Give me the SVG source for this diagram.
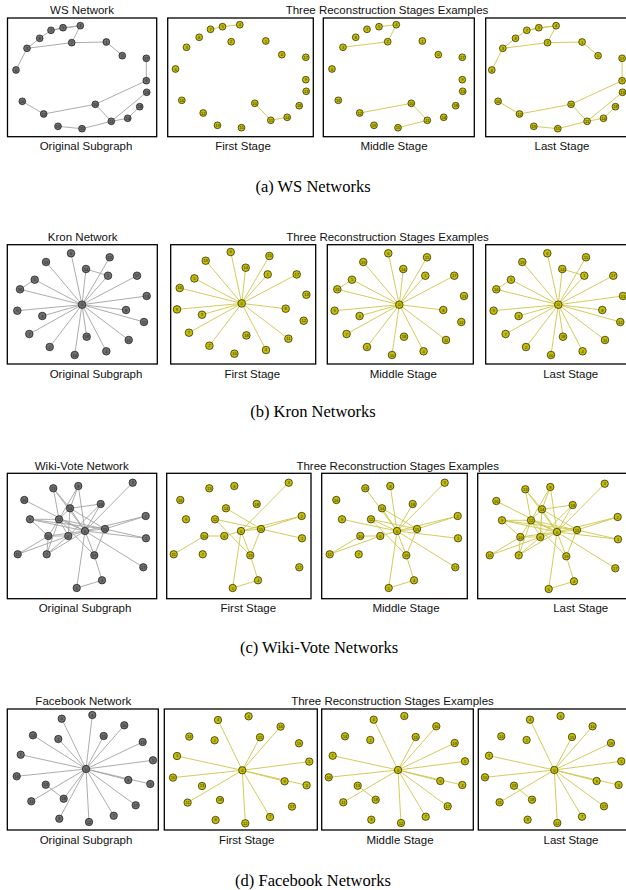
<svg xmlns="http://www.w3.org/2000/svg" xmlns:xlink="http://www.w3.org/1999/xlink" width="626" height="890" viewBox="0 0 626 890">
<style>
.box{fill:none;stroke:#000;stroke-width:1.3}
.t{font-family:"Liberation Sans",Arial,sans-serif;font-size:11.5px;text-anchor:middle;fill:#111}
.cap{font-family:"Liberation Serif","Times New Roman",serif;font-size:16.5px;text-anchor:middle;fill:#000}
.eg{stroke:#a3a3a3;stroke-width:.9;fill:none}
.ey{stroke:#cdc64a;stroke-width:.9;fill:none}
.nd circle{stroke:#000;stroke-width:.6}
.gr circle{fill:#707070}
.yl circle{fill:#c6bf00}
.nd text{font-family:"Liberation Sans",Arial,sans-serif;font-size:4px;text-anchor:middle;dominant-baseline:central;fill:#1a1a1a}
.ra circle{r:3.4px}
.rb circle{r:3.8px}
.rc circle{r:3.7px}
.rd circle{r:3.7px}
</style>
<defs>
<g id="eaAll">
<line id="ea6-3" x1="16" y1="70" x2="27" y2="48.3"/>
<line id="ea3-8" x1="27" y1="48.3" x2="39.7" y2="38.3"/>
<line id="ea8-7" x1="39.7" y1="38.3" x2="51" y2="30.3"/>
<line id="ea7-5" x1="51" y1="30.3" x2="63" y2="27.7"/>
<line id="ea5-4" x1="63" y1="27.7" x2="80.3" y2="25.7"/>
<line id="ea7-4" x1="51" y1="30.3" x2="80.3" y2="25.7"/>
<line id="ea3-2" x1="27" y1="48.3" x2="71.7" y2="42.7"/>
<line id="ea2-4" x1="71.7" y1="42.7" x2="80.3" y2="25.7"/>
<line id="ea2-1" x1="71.7" y1="42.7" x2="106.3" y2="42"/>
<line id="ea1-0" x1="106.3" y1="42" x2="122.3" y2="55.7"/>
<line id="ea17-9" x1="146.3" y1="58.3" x2="146.3" y2="80.7"/>
<line id="ea9-10" x1="146.3" y1="80.7" x2="95.3" y2="104.3"/>
<line id="ea10-12" x1="95.3" y1="104.3" x2="43.7" y2="114"/>
<line id="ea12-16" x1="43.7" y1="114" x2="22.3" y2="101.3"/>
<line id="ea10-11" x1="95.3" y1="104.3" x2="111.3" y2="121.3"/>
<line id="ea11-13" x1="111.3" y1="121.3" x2="146.7" y2="92.3"/>
<line id="ea11-14" x1="111.3" y1="121.3" x2="127.7" y2="118.3"/>
<line id="ea14-18" x1="127.7" y1="118.3" x2="139.7" y2="106.7"/>
<line id="ea11-15" x1="111.3" y1="121.3" x2="82" y2="128.7"/>
<line id="ea15-19" x1="82" y1="128.7" x2="58" y2="126.3"/>
</g>
<g id="ebAll">
<line id="eb0-1" x1="82" y1="304.7" x2="108" y2="275.7"/>
<line id="eb0-2" x1="82" y1="304.7" x2="49.7" y2="347"/>
<line id="eb0-3" x1="82" y1="304.7" x2="42.3" y2="316"/>
<line id="eb0-4" x1="82" y1="304.7" x2="106.3" y2="351.3"/>
<line id="eb0-5" x1="82" y1="304.7" x2="34.7" y2="279.7"/>
<line id="eb0-6" x1="82" y1="304.7" x2="71" y2="253.3"/>
<line id="eb0-7" x1="82" y1="304.7" x2="29.3" y2="334"/>
<line id="eb0-8" x1="82" y1="304.7" x2="126" y2="310"/>
<line id="eb0-9" x1="82" y1="304.7" x2="17.3" y2="310.7"/>
<line id="eb0-10" x1="82" y1="304.7" x2="74.7" y2="355"/>
<line id="eb0-11" x1="82" y1="304.7" x2="128.7" y2="340"/>
<line id="eb0-12" x1="82" y1="304.7" x2="144" y2="322"/>
<line id="eb0-13" x1="82" y1="304.7" x2="146.7" y2="296"/>
<line id="eb0-14" x1="82" y1="304.7" x2="86" y2="269"/>
<line id="eb0-15" x1="82" y1="304.7" x2="109.7" y2="257.3"/>
<line id="eb0-16" x1="82" y1="304.7" x2="20" y2="289.3"/>
<line id="eb0-17" x1="82" y1="304.7" x2="137" y2="275.7"/>
<line id="eb0-18" x1="82" y1="304.7" x2="86.7" y2="336.7"/>
<line id="eb0-19" x1="82" y1="304.7" x2="46" y2="262"/>
<line id="eb14-1" x1="86" y1="269" x2="108" y2="275.7"/>
<line id="eb16-5" x1="20" y1="289.3" x2="34.7" y2="279.7"/>
</g>
<g id="ecAll">
<line id="ec0-3" x1="85" y1="531" x2="132.7" y2="482.7"/>
<line id="ec0-13" x1="85" y1="531" x2="53.3" y2="488.3"/>
<line id="ec0-8" x1="85" y1="531" x2="78.3" y2="486"/>
<line id="ec0-16" x1="85" y1="531" x2="24.3" y2="500"/>
<line id="ec0-18" x1="85" y1="531" x2="100.7" y2="504"/>
<line id="ec0-14" x1="85" y1="531" x2="70" y2="508.3"/>
<line id="ec0-9" x1="85" y1="531" x2="30" y2="519.3"/>
<line id="ec0-12" x1="85" y1="531" x2="59" y2="519.3"/>
<line id="ec0-2" x1="85" y1="531" x2="145.7" y2="516"/>
<line id="ec0-1" x1="85" y1="531" x2="146" y2="538.3"/>
<line id="ec0-10" x1="85" y1="531" x2="48.3" y2="536"/>
<line id="ec0-6" x1="85" y1="531" x2="68.3" y2="536"/>
<line id="ec0-7" x1="85" y1="531" x2="46.7" y2="554.3"/>
<line id="ec0-19" x1="85" y1="531" x2="94.3" y2="555.3"/>
<line id="ec0-17" x1="85" y1="531" x2="143.3" y2="567.3"/>
<line id="ec0-5" x1="85" y1="531" x2="76.7" y2="588"/>
<line id="ec0-15" x1="85" y1="531" x2="105" y2="529"/>
<line id="ec15-2" x1="105" y1="529" x2="145.7" y2="516"/>
<line id="ec15-1" x1="105" y1="529" x2="146" y2="538.3"/>
<line id="ec15-14" x1="105" y1="529" x2="70" y2="508.3"/>
<line id="ec15-12" x1="105" y1="529" x2="59" y2="519.3"/>
<line id="ec15-9" x1="105" y1="529" x2="30" y2="519.3"/>
<line id="ec15-19" x1="105" y1="529" x2="94.3" y2="555.3"/>
<line id="ec13-14" x1="53.3" y1="488.3" x2="70" y2="508.3"/>
<line id="ec13-12" x1="53.3" y1="488.3" x2="59" y2="519.3"/>
<line id="ec8-14" x1="78.3" y1="486" x2="70" y2="508.3"/>
<line id="ec8-12" x1="78.3" y1="486" x2="59" y2="519.3"/>
<line id="ec18-14" x1="100.7" y1="504" x2="70" y2="508.3"/>
<line id="ec18-6" x1="100.7" y1="504" x2="68.3" y2="536"/>
<line id="ec14-12" x1="70" y1="508.3" x2="59" y2="519.3"/>
<line id="ec14-6" x1="70" y1="508.3" x2="68.3" y2="536"/>
<line id="ec9-12" x1="30" y1="519.3" x2="59" y2="519.3"/>
<line id="ec9-10" x1="30" y1="519.3" x2="48.3" y2="536"/>
<line id="ec12-10" x1="59" y1="519.3" x2="48.3" y2="536"/>
<line id="ec12-7" x1="59" y1="519.3" x2="46.7" y2="554.3"/>
<line id="ec12-6" x1="59" y1="519.3" x2="68.3" y2="536"/>
<line id="ec12-19" x1="59" y1="519.3" x2="94.3" y2="555.3"/>
<line id="ec10-6" x1="48.3" y1="536" x2="68.3" y2="536"/>
<line id="ec10-11" x1="48.3" y1="536" x2="17.7" y2="554.3"/>
<line id="ec10-7" x1="48.3" y1="536" x2="46.7" y2="554.3"/>
<line id="ec6-11" x1="68.3" y1="536" x2="17.7" y2="554.3"/>
<line id="ec6-7" x1="68.3" y1="536" x2="46.7" y2="554.3"/>
<line id="ec19-4" x1="94.3" y1="555.3" x2="102" y2="580.3"/>
<line id="ec4-5" x1="102" y1="580.3" x2="76.7" y2="588"/>
</g>
<g id="edAll">
<line id="ed0-1" x1="86" y1="769" x2="20.7" y2="754.7"/>
<line id="ed0-2" x1="86" y1="769" x2="58.3" y2="739"/>
<line id="ed0-3" x1="86" y1="769" x2="150.3" y2="784"/>
<line id="ed0-4" x1="86" y1="769" x2="61.7" y2="718.7"/>
<line id="ed0-5" x1="86" y1="769" x2="153" y2="760.3"/>
<line id="ed0-6" x1="86" y1="769" x2="92.3" y2="715"/>
<line id="ed0-7" x1="86" y1="769" x2="113.7" y2="815.7"/>
<line id="ed0-8" x1="86" y1="769" x2="59.3" y2="818.7"/>
<line id="ed0-9" x1="86" y1="769" x2="128.3" y2="780"/>
<line id="ed0-10" x1="86" y1="769" x2="16.7" y2="776.3"/>
<line id="ed0-11" x1="86" y1="769" x2="31.3" y2="801.3"/>
<line id="ed0-12" x1="86" y1="769" x2="89" y2="822"/>
<line id="ed0-14" x1="86" y1="769" x2="33" y2="735.3"/>
<line id="ed0-15" x1="86" y1="769" x2="103.7" y2="736"/>
<line id="ed0-16" x1="86" y1="769" x2="124.3" y2="725.3"/>
<line id="ed0-17" x1="86" y1="769" x2="135.7" y2="805.3"/>
<line id="ed0-18" x1="86" y1="769" x2="63.7" y2="798.7"/>
<line id="ed0-19" x1="86" y1="769" x2="142.7" y2="742"/>
<line id="ed13-18" x1="45.7" y1="784.7" x2="63.7" y2="798.7"/>
</g>
</defs>
<rect width="626" height="890" fill="#fff"/>

<!-- ===== Row (a) WS ===== -->
<g id="rowA">
<text class="t" x="82" y="14">WS Network</text>
<text class="t" x="387" y="14">Three Reconstruction Stages Examples</text>
<rect class="box" x="7.5" y="18" width="149.2" height="118.7"/>
<rect class="box" x="167.7" y="18" width="145.6" height="118.7"/>
<rect class="box" x="323.3" y="18" width="151" height="118.7"/>
<rect class="box" x="485.7" y="18" width="150" height="118.7"/>
<text class="t" x="86" y="150">Original Subgraph</text>
<text class="t" x="243" y="150">First Stage</text>
<text class="t" x="394" y="150">Middle Stage</text>
<text class="t" x="562" y="150">Last Stage</text>
<text class="cap" x="313" y="191.5">(a) WS Networks</text>
<g id="a1-edges" class="eg"><use href="#eaAll"/></g>
<g id="a2-edges" class="ey" transform="translate(159.5,-1)"><use href="#ea7-5"/><use href="#ea5-4"/><use href="#ea10-11"/><use href="#ea11-14"/></g>
<g id="a3-edges" class="ey" transform="translate(316,-1)"><use href="#ea5-4"/><use href="#ea2-4"/><use href="#ea3-2"/><use href="#ea10-12"/><use href="#ea10-11"/><use href="#ea11-15"/></g>
<g id="a4-edges" class="ey" transform="translate(475.8,0)"><use href="#eaAll"/></g>
<g id="a1" class="nd gr ra">
<g id="a1-0"><circle cx="122.3" cy="55.7"/><text x="122.3" y="55.7">0</text></g>
<g id="a1-1"><circle cx="106.3" cy="42"/><text x="106.3" y="42">1</text></g>
<g id="a1-2"><circle cx="71.7" cy="42.7"/><text x="71.7" y="42.7">2</text></g>
<g id="a1-3"><circle cx="27" cy="48.3"/><text x="27" y="48.3">3</text></g>
<g id="a1-4"><circle cx="80.3" cy="25.7"/><text x="80.3" y="25.7">4</text></g>
<g id="a1-5"><circle cx="63" cy="27.7"/><text x="63" y="27.7">5</text></g>
<g id="a1-6"><circle cx="16" cy="70"/><text x="16" y="70">6</text></g>
<g id="a1-7"><circle cx="51" cy="30.3"/><text x="51" y="30.3">7</text></g>
<g id="a1-8"><circle cx="39.7" cy="38.3"/><text x="39.7" y="38.3">8</text></g>
<g id="a1-9"><circle cx="146.3" cy="80.7"/><text x="146.3" y="80.7">9</text></g>
<g id="a1-10"><circle cx="95.3" cy="104.3"/><text x="95.3" y="104.3">10</text></g>
<g id="a1-11"><circle cx="111.3" cy="121.3"/><text x="111.3" y="121.3">11</text></g>
<g id="a1-12"><circle cx="43.7" cy="114"/><text x="43.7" y="114">12</text></g>
<g id="a1-13"><circle cx="146.7" cy="92.3"/><text x="146.7" y="92.3">13</text></g>
<g id="a1-14"><circle cx="127.7" cy="118.3"/><text x="127.7" y="118.3">14</text></g>
<g id="a1-15"><circle cx="82" cy="128.7"/><text x="82" y="128.7">15</text></g>
<g id="a1-16"><circle cx="22.3" cy="101.3"/><text x="22.3" y="101.3">16</text></g>
<g id="a1-17"><circle cx="146.3" cy="58.3"/><text x="146.3" y="58.3">17</text></g>
<g id="a1-18"><circle cx="139.7" cy="106.7"/><text x="139.7" y="106.7">18</text></g>
<g id="a1-19"><circle cx="58" cy="126.3"/><text x="58" y="126.3">19</text></g>
</g>
<g id="a2" class="nd yl ra" transform="translate(159.5,-1)">
<g id="a2-0"><circle cx="122.3" cy="55.7"/><text x="122.3" y="55.7">0</text></g>
<g id="a2-1"><circle cx="106.3" cy="42"/><text x="106.3" y="42">1</text></g>
<g id="a2-2"><circle cx="71.7" cy="42.7"/><text x="71.7" y="42.7">2</text></g>
<g id="a2-3"><circle cx="27" cy="48.3"/><text x="27" y="48.3">3</text></g>
<g id="a2-4"><circle cx="80.3" cy="25.7"/><text x="80.3" y="25.7">4</text></g>
<g id="a2-5"><circle cx="63" cy="27.7"/><text x="63" y="27.7">5</text></g>
<g id="a2-6"><circle cx="16" cy="70"/><text x="16" y="70">6</text></g>
<g id="a2-7"><circle cx="51" cy="30.3"/><text x="51" y="30.3">7</text></g>
<g id="a2-8"><circle cx="39.7" cy="38.3"/><text x="39.7" y="38.3">8</text></g>
<g id="a2-9"><circle cx="146.3" cy="80.7"/><text x="146.3" y="80.7">9</text></g>
<g id="a2-10"><circle cx="95.3" cy="104.3"/><text x="95.3" y="104.3">10</text></g>
<g id="a2-11"><circle cx="111.3" cy="121.3"/><text x="111.3" y="121.3">11</text></g>
<g id="a2-12"><circle cx="43.7" cy="114"/><text x="43.7" y="114">12</text></g>
<g id="a2-13"><circle cx="146.7" cy="92.3"/><text x="146.7" y="92.3">13</text></g>
<g id="a2-14"><circle cx="127.7" cy="118.3"/><text x="127.7" y="118.3">14</text></g>
<g id="a2-15"><circle cx="82" cy="128.7"/><text x="82" y="128.7">15</text></g>
<g id="a2-16"><circle cx="22.3" cy="101.3"/><text x="22.3" y="101.3">16</text></g>
<g id="a2-17"><circle cx="146.3" cy="58.3"/><text x="146.3" y="58.3">17</text></g>
<g id="a2-18"><circle cx="139.7" cy="106.7"/><text x="139.7" y="106.7">18</text></g>
<g id="a2-19"><circle cx="58" cy="126.3"/><text x="58" y="126.3">19</text></g>
</g>
<g id="a3" class="nd yl ra" transform="translate(316,-1)">
<g id="a3-0"><circle cx="122.3" cy="55.7"/><text x="122.3" y="55.7">0</text></g>
<g id="a3-1"><circle cx="106.3" cy="42"/><text x="106.3" y="42">1</text></g>
<g id="a3-2"><circle cx="71.7" cy="42.7"/><text x="71.7" y="42.7">2</text></g>
<g id="a3-3"><circle cx="27" cy="48.3"/><text x="27" y="48.3">3</text></g>
<g id="a3-4"><circle cx="80.3" cy="25.7"/><text x="80.3" y="25.7">4</text></g>
<g id="a3-5"><circle cx="63" cy="27.7"/><text x="63" y="27.7">5</text></g>
<g id="a3-6"><circle cx="16" cy="70"/><text x="16" y="70">6</text></g>
<g id="a3-7"><circle cx="51" cy="30.3"/><text x="51" y="30.3">7</text></g>
<g id="a3-8"><circle cx="39.7" cy="38.3"/><text x="39.7" y="38.3">8</text></g>
<g id="a3-9"><circle cx="146.3" cy="80.7"/><text x="146.3" y="80.7">9</text></g>
<g id="a3-10"><circle cx="95.3" cy="104.3"/><text x="95.3" y="104.3">10</text></g>
<g id="a3-11"><circle cx="111.3" cy="121.3"/><text x="111.3" y="121.3">11</text></g>
<g id="a3-12"><circle cx="43.7" cy="114"/><text x="43.7" y="114">12</text></g>
<g id="a3-13"><circle cx="146.7" cy="92.3"/><text x="146.7" y="92.3">13</text></g>
<g id="a3-14"><circle cx="127.7" cy="118.3"/><text x="127.7" y="118.3">14</text></g>
<g id="a3-15"><circle cx="82" cy="128.7"/><text x="82" y="128.7">15</text></g>
<g id="a3-16"><circle cx="22.3" cy="101.3"/><text x="22.3" y="101.3">16</text></g>
<g id="a3-17"><circle cx="146.3" cy="58.3"/><text x="146.3" y="58.3">17</text></g>
<g id="a3-18"><circle cx="139.7" cy="106.7"/><text x="139.7" y="106.7">18</text></g>
<g id="a3-19"><circle cx="58" cy="126.3"/><text x="58" y="126.3">19</text></g>
</g>
<g id="a4" class="nd yl ra" transform="translate(475.8,0)">
<g id="a4-0"><circle cx="122.3" cy="55.7"/><text x="122.3" y="55.7">0</text></g>
<g id="a4-1"><circle cx="106.3" cy="42"/><text x="106.3" y="42">1</text></g>
<g id="a4-2"><circle cx="71.7" cy="42.7"/><text x="71.7" y="42.7">2</text></g>
<g id="a4-3"><circle cx="27" cy="48.3"/><text x="27" y="48.3">3</text></g>
<g id="a4-4"><circle cx="80.3" cy="25.7"/><text x="80.3" y="25.7">4</text></g>
<g id="a4-5"><circle cx="63" cy="27.7"/><text x="63" y="27.7">5</text></g>
<g id="a4-6"><circle cx="16" cy="70"/><text x="16" y="70">6</text></g>
<g id="a4-7"><circle cx="51" cy="30.3"/><text x="51" y="30.3">7</text></g>
<g id="a4-8"><circle cx="39.7" cy="38.3"/><text x="39.7" y="38.3">8</text></g>
<g id="a4-9"><circle cx="146.3" cy="80.7"/><text x="146.3" y="80.7">9</text></g>
<g id="a4-10"><circle cx="95.3" cy="104.3"/><text x="95.3" y="104.3">10</text></g>
<g id="a4-11"><circle cx="111.3" cy="121.3"/><text x="111.3" y="121.3">11</text></g>
<g id="a4-12"><circle cx="43.7" cy="114"/><text x="43.7" y="114">12</text></g>
<g id="a4-13"><circle cx="146.7" cy="92.3"/><text x="146.7" y="92.3">13</text></g>
<g id="a4-14"><circle cx="127.7" cy="118.3"/><text x="127.7" y="118.3">14</text></g>
<g id="a4-15"><circle cx="82" cy="128.7"/><text x="82" y="128.7">15</text></g>
<g id="a4-16"><circle cx="22.3" cy="101.3"/><text x="22.3" y="101.3">16</text></g>
<g id="a4-17"><circle cx="146.3" cy="58.3"/><text x="146.3" y="58.3">17</text></g>
<g id="a4-18"><circle cx="139.7" cy="106.7"/><text x="139.7" y="106.7">18</text></g>
<g id="a4-19"><circle cx="58" cy="126.3"/><text x="58" y="126.3">19</text></g>
</g>
</g>

<!-- ===== Row (b) Kron ===== -->
<g id="rowB">
<text class="t" x="82.7" y="241">Kron Network</text>
<text class="t" x="387.5" y="241">Three Reconstruction Stages Examples</text>
<rect class="box" x="7.3" y="244.7" width="150" height="119.3"/>
<rect class="box" x="170.7" y="244.7" width="145" height="119.3"/>
<rect class="box" x="327.3" y="244.7" width="146" height="119.3"/>
<rect class="box" x="485.7" y="244.7" width="150" height="119.3"/>
<text class="t" x="96" y="378">Original Subgraph</text>
<text class="t" x="252.3" y="378">First Stage</text>
<text class="t" x="403.3" y="378">Middle Stage</text>
<text class="t" x="570.7" y="378">Last Stage</text>
<text class="cap" x="313" y="416.5">(b) Kron Networks</text>
<g id="b1-edges" class="eg"><use href="#ebAll"/></g>
<g id="b2-edges" class="ey" transform="translate(159.7,-1.3)"><use href="#eb0-6"/><use href="#eb0-19"/><use href="#eb0-14"/><use href="#eb0-15"/><use href="#eb0-1"/><use href="#eb0-17"/><use href="#eb0-5"/><use href="#eb0-16"/><use href="#eb0-9"/><use href="#eb0-3"/><use href="#eb0-8"/><use href="#eb0-7"/><use href="#eb0-2"/><use href="#eb0-11"/><use href="#eb0-4"/></g>
<g id="b3-edges" class="ey" transform="translate(317.3,0)"><use href="#eb0-6"/><use href="#eb0-19"/><use href="#eb0-14"/><use href="#eb0-15"/><use href="#eb0-1"/><use href="#eb0-17"/><use href="#eb0-5"/><use href="#eb0-16"/><use href="#eb0-9"/><use href="#eb0-3"/><use href="#eb0-8"/><use href="#eb0-7"/><use href="#eb0-2"/><use href="#eb0-10"/><use href="#eb0-4"/><use href="#eb0-11"/><use href="#eb16-5"/></g>
<g id="b4-edges" class="ey" transform="translate(476.3,0)"><use href="#ebAll"/></g>
<g id="b1" class="nd gr rb">
<g id="b1-0"><circle cx="82" cy="304.7"/><text x="82" y="304.7">0</text></g>
<g id="b1-1"><circle cx="108" cy="275.7"/><text x="108" y="275.7">1</text></g>
<g id="b1-2"><circle cx="49.7" cy="347"/><text x="49.7" y="347">2</text></g>
<g id="b1-3"><circle cx="42.3" cy="316"/><text x="42.3" y="316">3</text></g>
<g id="b1-4"><circle cx="106.3" cy="351.3"/><text x="106.3" y="351.3">4</text></g>
<g id="b1-5"><circle cx="34.7" cy="279.7"/><text x="34.7" y="279.7">5</text></g>
<g id="b1-6"><circle cx="71" cy="253.3"/><text x="71" y="253.3">6</text></g>
<g id="b1-7"><circle cx="29.3" cy="334"/><text x="29.3" y="334">7</text></g>
<g id="b1-8"><circle cx="126" cy="310"/><text x="126" y="310">8</text></g>
<g id="b1-9"><circle cx="17.3" cy="310.7"/><text x="17.3" y="310.7">9</text></g>
<g id="b1-10"><circle cx="74.7" cy="355"/><text x="74.7" y="355">10</text></g>
<g id="b1-11"><circle cx="128.7" cy="340"/><text x="128.7" y="340">11</text></g>
<g id="b1-12"><circle cx="144" cy="322"/><text x="144" y="322">12</text></g>
<g id="b1-13"><circle cx="146.7" cy="296"/><text x="146.7" y="296">13</text></g>
<g id="b1-14"><circle cx="86" cy="269"/><text x="86" y="269">14</text></g>
<g id="b1-15"><circle cx="109.7" cy="257.3"/><text x="109.7" y="257.3">15</text></g>
<g id="b1-16"><circle cx="20" cy="289.3"/><text x="20" y="289.3">16</text></g>
<g id="b1-17"><circle cx="137" cy="275.7"/><text x="137" y="275.7">17</text></g>
<g id="b1-18"><circle cx="86.7" cy="336.7"/><text x="86.7" y="336.7">18</text></g>
<g id="b1-19"><circle cx="46" cy="262"/><text x="46" y="262">19</text></g>
</g>
<g id="b2" class="nd yl rb" transform="translate(159.7,-1.3)">
<g id="b2-0"><circle cx="82" cy="304.7"/><text x="82" y="304.7">0</text></g>
<g id="b2-1"><circle cx="108" cy="275.7"/><text x="108" y="275.7">1</text></g>
<g id="b2-2"><circle cx="49.7" cy="347"/><text x="49.7" y="347">2</text></g>
<g id="b2-3"><circle cx="42.3" cy="316"/><text x="42.3" y="316">3</text></g>
<g id="b2-4"><circle cx="106.3" cy="351.3"/><text x="106.3" y="351.3">4</text></g>
<g id="b2-5"><circle cx="34.7" cy="279.7"/><text x="34.7" y="279.7">5</text></g>
<g id="b2-6"><circle cx="71" cy="253.3"/><text x="71" y="253.3">6</text></g>
<g id="b2-7"><circle cx="29.3" cy="334"/><text x="29.3" y="334">7</text></g>
<g id="b2-8"><circle cx="126" cy="310"/><text x="126" y="310">8</text></g>
<g id="b2-9"><circle cx="17.3" cy="310.7"/><text x="17.3" y="310.7">9</text></g>
<g id="b2-10"><circle cx="74.7" cy="355"/><text x="74.7" y="355">10</text></g>
<g id="b2-11"><circle cx="128.7" cy="340"/><text x="128.7" y="340">11</text></g>
<g id="b2-12"><circle cx="144" cy="322"/><text x="144" y="322">12</text></g>
<g id="b2-13"><circle cx="146.7" cy="296"/><text x="146.7" y="296">13</text></g>
<g id="b2-14"><circle cx="86" cy="269"/><text x="86" y="269">14</text></g>
<g id="b2-15"><circle cx="109.7" cy="257.3"/><text x="109.7" y="257.3">15</text></g>
<g id="b2-16"><circle cx="20" cy="289.3"/><text x="20" y="289.3">16</text></g>
<g id="b2-17"><circle cx="137" cy="275.7"/><text x="137" y="275.7">17</text></g>
<g id="b2-18"><circle cx="86.7" cy="336.7"/><text x="86.7" y="336.7">18</text></g>
<g id="b2-19"><circle cx="46" cy="262"/><text x="46" y="262">19</text></g>
</g>
<g id="b3" class="nd yl rb" transform="translate(317.3,0)">
<g id="b3-0"><circle cx="82" cy="304.7"/><text x="82" y="304.7">0</text></g>
<g id="b3-1"><circle cx="108" cy="275.7"/><text x="108" y="275.7">1</text></g>
<g id="b3-2"><circle cx="49.7" cy="347"/><text x="49.7" y="347">2</text></g>
<g id="b3-3"><circle cx="42.3" cy="316"/><text x="42.3" y="316">3</text></g>
<g id="b3-4"><circle cx="106.3" cy="351.3"/><text x="106.3" y="351.3">4</text></g>
<g id="b3-5"><circle cx="34.7" cy="279.7"/><text x="34.7" y="279.7">5</text></g>
<g id="b3-6"><circle cx="71" cy="253.3"/><text x="71" y="253.3">6</text></g>
<g id="b3-7"><circle cx="29.3" cy="334"/><text x="29.3" y="334">7</text></g>
<g id="b3-8"><circle cx="126" cy="310"/><text x="126" y="310">8</text></g>
<g id="b3-9"><circle cx="17.3" cy="310.7"/><text x="17.3" y="310.7">9</text></g>
<g id="b3-10"><circle cx="74.7" cy="355"/><text x="74.7" y="355">10</text></g>
<g id="b3-11"><circle cx="128.7" cy="340"/><text x="128.7" y="340">11</text></g>
<g id="b3-12"><circle cx="144" cy="322"/><text x="144" y="322">12</text></g>
<g id="b3-13"><circle cx="146.7" cy="296"/><text x="146.7" y="296">13</text></g>
<g id="b3-14"><circle cx="86" cy="269"/><text x="86" y="269">14</text></g>
<g id="b3-15"><circle cx="109.7" cy="257.3"/><text x="109.7" y="257.3">15</text></g>
<g id="b3-16"><circle cx="20" cy="289.3"/><text x="20" y="289.3">16</text></g>
<g id="b3-17"><circle cx="137" cy="275.7"/><text x="137" y="275.7">17</text></g>
<g id="b3-18"><circle cx="86.7" cy="336.7"/><text x="86.7" y="336.7">18</text></g>
<g id="b3-19"><circle cx="46" cy="262"/><text x="46" y="262">19</text></g>
</g>
<g id="b4" class="nd yl rb" transform="translate(476.3,0)">
<g id="b4-0"><circle cx="82" cy="304.7"/><text x="82" y="304.7">0</text></g>
<g id="b4-1"><circle cx="108" cy="275.7"/><text x="108" y="275.7">1</text></g>
<g id="b4-2"><circle cx="49.7" cy="347"/><text x="49.7" y="347">2</text></g>
<g id="b4-3"><circle cx="42.3" cy="316"/><text x="42.3" y="316">3</text></g>
<g id="b4-4"><circle cx="106.3" cy="351.3"/><text x="106.3" y="351.3">4</text></g>
<g id="b4-5"><circle cx="34.7" cy="279.7"/><text x="34.7" y="279.7">5</text></g>
<g id="b4-6"><circle cx="71" cy="253.3"/><text x="71" y="253.3">6</text></g>
<g id="b4-7"><circle cx="29.3" cy="334"/><text x="29.3" y="334">7</text></g>
<g id="b4-8"><circle cx="126" cy="310"/><text x="126" y="310">8</text></g>
<g id="b4-9"><circle cx="17.3" cy="310.7"/><text x="17.3" y="310.7">9</text></g>
<g id="b4-10"><circle cx="74.7" cy="355"/><text x="74.7" y="355">10</text></g>
<g id="b4-11"><circle cx="128.7" cy="340"/><text x="128.7" y="340">11</text></g>
<g id="b4-12"><circle cx="144" cy="322"/><text x="144" y="322">12</text></g>
<g id="b4-13"><circle cx="146.7" cy="296"/><text x="146.7" y="296">13</text></g>
<g id="b4-14"><circle cx="86" cy="269"/><text x="86" y="269">14</text></g>
<g id="b4-15"><circle cx="109.7" cy="257.3"/><text x="109.7" y="257.3">15</text></g>
<g id="b4-16"><circle cx="20" cy="289.3"/><text x="20" y="289.3">16</text></g>
<g id="b4-17"><circle cx="137" cy="275.7"/><text x="137" y="275.7">17</text></g>
<g id="b4-18"><circle cx="86.7" cy="336.7"/><text x="86.7" y="336.7">18</text></g>
<g id="b4-19"><circle cx="46" cy="262"/><text x="46" y="262">19</text></g>
</g>
</g>

<!-- ===== Row (c) Wiki-Vote ===== -->
<g id="rowC">
<text class="t" x="81.7" y="469.5">Wiki-Vote Network</text>
<text class="t" x="397.7" y="469.5">Three Reconstruction Stages Examples</text>
<rect class="box" x="7.3" y="473.3" width="149.4" height="125.4"/>
<rect class="box" x="166.7" y="473.3" width="144.3" height="125.4"/>
<rect class="box" x="321.7" y="473.3" width="145.6" height="125.4"/>
<rect class="box" x="477.7" y="473.3" width="155" height="125.4"/>
<text class="t" x="85" y="612">Original Subgraph</text>
<text class="t" x="248.3" y="612">First Stage</text>
<text class="t" x="406" y="612">Middle Stage</text>
<text class="t" x="580.7" y="612">Last Stage</text>
<text class="cap" x="319" y="652.5">(c) Wiki-Vote Networks</text>
<g id="c1-edges" class="eg"><use href="#ecAll"/></g>
<g id="c2-edges" class="ey" transform="translate(156,0)"><use href="#ec0-3"/><use href="#ec15-14"/><use href="#ec15-12"/><use href="#ec12-19"/><use href="#ec15-2"/><use href="#ec0-2"/><use href="#ec15-1"/><use href="#ec0-6"/><use href="#ec10-6"/><use href="#ec10-11"/><use href="#ec0-19"/><use href="#ec19-4"/><use href="#ec0-5"/><use href="#ec4-5"/><use href="#ec15-19"/><use href="#ec0-15"/></g>
<g id="c3-edges" class="ey" transform="translate(312,0)"><use href="#ec0-3"/><use href="#ec0-13"/><use href="#ec0-8"/><use href="#ec0-18"/><use href="#ec0-14"/><use href="#ec15-14"/><use href="#ec0-9"/><use href="#ec0-12"/><use href="#ec12-19"/><use href="#ec15-12"/><use href="#ec15-2"/><use href="#ec0-2"/><use href="#ec0-1"/><use href="#ec10-6"/><use href="#ec0-6"/><use href="#ec10-11"/><use href="#ec6-11"/><use href="#ec0-19"/><use href="#ec19-4"/><use href="#ec4-5"/><use href="#ec0-5"/><use href="#ec0-17"/><use href="#ec15-19"/><use href="#ec0-15"/></g>
<g id="c4-edges" class="ey" transform="translate(472,1)"><use href="#ecAll"/></g>
<g id="c1" class="nd gr rc">
<g id="c1-0"><circle cx="85" cy="531"/><text x="85" y="531">0</text></g>
<g id="c1-1"><circle cx="146" cy="538.3"/><text x="146" y="538.3">1</text></g>
<g id="c1-2"><circle cx="145.7" cy="516"/><text x="145.7" y="516">2</text></g>
<g id="c1-3"><circle cx="132.7" cy="482.7"/><text x="132.7" y="482.7">3</text></g>
<g id="c1-4"><circle cx="102" cy="580.3"/><text x="102" y="580.3">4</text></g>
<g id="c1-5"><circle cx="76.7" cy="588"/><text x="76.7" y="588">5</text></g>
<g id="c1-6"><circle cx="68.3" cy="536"/><text x="68.3" y="536">6</text></g>
<g id="c1-7"><circle cx="46.7" cy="554.3"/><text x="46.7" y="554.3">7</text></g>
<g id="c1-8"><circle cx="78.3" cy="486"/><text x="78.3" y="486">8</text></g>
<g id="c1-9"><circle cx="30" cy="519.3"/><text x="30" y="519.3">9</text></g>
<g id="c1-10"><circle cx="48.3" cy="536"/><text x="48.3" y="536">10</text></g>
<g id="c1-11"><circle cx="17.7" cy="554.3"/><text x="17.7" y="554.3">11</text></g>
<g id="c1-12"><circle cx="59" cy="519.3"/><text x="59" y="519.3">12</text></g>
<g id="c1-13"><circle cx="53.3" cy="488.3"/><text x="53.3" y="488.3">13</text></g>
<g id="c1-14"><circle cx="70" cy="508.3"/><text x="70" y="508.3">14</text></g>
<g id="c1-15"><circle cx="105" cy="529"/><text x="105" y="529">15</text></g>
<g id="c1-16"><circle cx="24.3" cy="500"/><text x="24.3" y="500">16</text></g>
<g id="c1-17"><circle cx="143.3" cy="567.3"/><text x="143.3" y="567.3">17</text></g>
<g id="c1-18"><circle cx="100.7" cy="504"/><text x="100.7" y="504">18</text></g>
<g id="c1-19"><circle cx="94.3" cy="555.3"/><text x="94.3" y="555.3">19</text></g>
</g>
<g id="c2" class="nd yl rc" transform="translate(156,0)">
<g id="c2-0"><circle cx="85" cy="531"/><text x="85" y="531">0</text></g>
<g id="c2-1"><circle cx="146" cy="538.3"/><text x="146" y="538.3">1</text></g>
<g id="c2-2"><circle cx="145.7" cy="516"/><text x="145.7" y="516">2</text></g>
<g id="c2-3"><circle cx="132.7" cy="482.7"/><text x="132.7" y="482.7">3</text></g>
<g id="c2-4"><circle cx="102" cy="580.3"/><text x="102" y="580.3">4</text></g>
<g id="c2-5"><circle cx="76.7" cy="588"/><text x="76.7" y="588">5</text></g>
<g id="c2-6"><circle cx="68.3" cy="536"/><text x="68.3" y="536">6</text></g>
<g id="c2-7"><circle cx="46.7" cy="554.3"/><text x="46.7" y="554.3">7</text></g>
<g id="c2-8"><circle cx="78.3" cy="486"/><text x="78.3" y="486">8</text></g>
<g id="c2-9"><circle cx="30" cy="519.3"/><text x="30" y="519.3">9</text></g>
<g id="c2-10"><circle cx="48.3" cy="536"/><text x="48.3" y="536">10</text></g>
<g id="c2-11"><circle cx="17.7" cy="554.3"/><text x="17.7" y="554.3">11</text></g>
<g id="c2-12"><circle cx="59" cy="519.3"/><text x="59" y="519.3">12</text></g>
<g id="c2-13"><circle cx="53.3" cy="488.3"/><text x="53.3" y="488.3">13</text></g>
<g id="c2-14"><circle cx="70" cy="508.3"/><text x="70" y="508.3">14</text></g>
<g id="c2-15"><circle cx="105" cy="529"/><text x="105" y="529">15</text></g>
<g id="c2-16"><circle cx="24.3" cy="500"/><text x="24.3" y="500">16</text></g>
<g id="c2-17"><circle cx="143.3" cy="567.3"/><text x="143.3" y="567.3">17</text></g>
<g id="c2-18"><circle cx="100.7" cy="504"/><text x="100.7" y="504">18</text></g>
<g id="c2-19"><circle cx="94.3" cy="555.3"/><text x="94.3" y="555.3">19</text></g>
</g>
<g id="c3" class="nd yl rc" transform="translate(312,0)">
<g id="c3-0"><circle cx="85" cy="531"/><text x="85" y="531">0</text></g>
<g id="c3-1"><circle cx="146" cy="538.3"/><text x="146" y="538.3">1</text></g>
<g id="c3-2"><circle cx="145.7" cy="516"/><text x="145.7" y="516">2</text></g>
<g id="c3-3"><circle cx="132.7" cy="482.7"/><text x="132.7" y="482.7">3</text></g>
<g id="c3-4"><circle cx="102" cy="580.3"/><text x="102" y="580.3">4</text></g>
<g id="c3-5"><circle cx="76.7" cy="588"/><text x="76.7" y="588">5</text></g>
<g id="c3-6"><circle cx="68.3" cy="536"/><text x="68.3" y="536">6</text></g>
<g id="c3-7"><circle cx="46.7" cy="554.3"/><text x="46.7" y="554.3">7</text></g>
<g id="c3-8"><circle cx="78.3" cy="486"/><text x="78.3" y="486">8</text></g>
<g id="c3-9"><circle cx="30" cy="519.3"/><text x="30" y="519.3">9</text></g>
<g id="c3-10"><circle cx="48.3" cy="536"/><text x="48.3" y="536">10</text></g>
<g id="c3-11"><circle cx="17.7" cy="554.3"/><text x="17.7" y="554.3">11</text></g>
<g id="c3-12"><circle cx="59" cy="519.3"/><text x="59" y="519.3">12</text></g>
<g id="c3-13"><circle cx="53.3" cy="488.3"/><text x="53.3" y="488.3">13</text></g>
<g id="c3-14"><circle cx="70" cy="508.3"/><text x="70" y="508.3">14</text></g>
<g id="c3-15"><circle cx="105" cy="529"/><text x="105" y="529">15</text></g>
<g id="c3-16"><circle cx="24.3" cy="500"/><text x="24.3" y="500">16</text></g>
<g id="c3-17"><circle cx="143.3" cy="567.3"/><text x="143.3" y="567.3">17</text></g>
<g id="c3-18"><circle cx="100.7" cy="504"/><text x="100.7" y="504">18</text></g>
<g id="c3-19"><circle cx="94.3" cy="555.3"/><text x="94.3" y="555.3">19</text></g>
</g>
<g id="c4" class="nd yl rc" transform="translate(472,1)">
<g id="c4-0"><circle cx="85" cy="531"/><text x="85" y="531">0</text></g>
<g id="c4-1"><circle cx="146" cy="538.3"/><text x="146" y="538.3">1</text></g>
<g id="c4-2"><circle cx="145.7" cy="516"/><text x="145.7" y="516">2</text></g>
<g id="c4-3"><circle cx="132.7" cy="482.7"/><text x="132.7" y="482.7">3</text></g>
<g id="c4-4"><circle cx="102" cy="580.3"/><text x="102" y="580.3">4</text></g>
<g id="c4-5"><circle cx="76.7" cy="588"/><text x="76.7" y="588">5</text></g>
<g id="c4-6"><circle cx="68.3" cy="536"/><text x="68.3" y="536">6</text></g>
<g id="c4-7"><circle cx="46.7" cy="554.3"/><text x="46.7" y="554.3">7</text></g>
<g id="c4-8"><circle cx="78.3" cy="486"/><text x="78.3" y="486">8</text></g>
<g id="c4-9"><circle cx="30" cy="519.3"/><text x="30" y="519.3">9</text></g>
<g id="c4-10"><circle cx="48.3" cy="536"/><text x="48.3" y="536">10</text></g>
<g id="c4-11"><circle cx="17.7" cy="554.3"/><text x="17.7" y="554.3">11</text></g>
<g id="c4-12"><circle cx="59" cy="519.3"/><text x="59" y="519.3">12</text></g>
<g id="c4-13"><circle cx="53.3" cy="488.3"/><text x="53.3" y="488.3">13</text></g>
<g id="c4-14"><circle cx="70" cy="508.3"/><text x="70" y="508.3">14</text></g>
<g id="c4-15"><circle cx="105" cy="529"/><text x="105" y="529">15</text></g>
<g id="c4-16"><circle cx="24.3" cy="500"/><text x="24.3" y="500">16</text></g>
<g id="c4-17"><circle cx="143.3" cy="567.3"/><text x="143.3" y="567.3">17</text></g>
<g id="c4-18"><circle cx="100.7" cy="504"/><text x="100.7" y="504">18</text></g>
<g id="c4-19"><circle cx="94.3" cy="555.3"/><text x="94.3" y="555.3">19</text></g>
</g>
</g>

<!-- ===== Row (d) Facebook ===== -->
<g id="rowD">
<text class="t" x="83.3" y="705">Facebook Network</text>
<text class="t" x="392.5" y="705">Three Reconstruction Stages Examples</text>
<rect class="box" x="7.3" y="709" width="151" height="121"/>
<rect class="box" x="164.3" y="709" width="153" height="121"/>
<rect class="box" x="321.7" y="709" width="151.6" height="121"/>
<rect class="box" x="478.3" y="709" width="155" height="121"/>
<text class="t" x="86" y="844">Original Subgraph</text>
<text class="t" x="246.7" y="844">First Stage</text>
<text class="t" x="400" y="844">Middle Stage</text>
<text class="t" x="571" y="844">Last Stage</text>
<text class="cap" x="313" y="885.5">(d) Facebook Networks</text>
<g id="d1-edges" class="eg"><use href="#edAll"/></g>
<g id="d2-edges" class="ey" transform="translate(156.3,1.3)"><use href="#ed0-4"/><use href="#ed0-15"/><use href="#ed0-16"/><use href="#ed0-1"/><use href="#ed0-10"/><use href="#ed0-5"/><use href="#ed0-9"/><use href="#ed0-3"/><use href="#ed0-11"/><use href="#ed0-12"/><use href="#ed0-7"/></g>
<g id="d3-edges" class="ey" transform="translate(312,1)"><use href="#ed0-4"/><use href="#ed0-15"/><use href="#ed0-16"/><use href="#ed0-19"/><use href="#ed0-1"/><use href="#ed0-10"/><use href="#ed0-5"/><use href="#ed0-9"/><use href="#ed0-3"/><use href="#ed0-11"/><use href="#ed0-12"/><use href="#ed0-7"/><use href="#ed0-17"/><use href="#ed13-18"/></g>
<g id="d4-edges" class="ey" transform="translate(468.3,1)"><use href="#ed0-4"/><use href="#ed0-15"/><use href="#ed0-16"/><use href="#ed0-19"/><use href="#ed0-1"/><use href="#ed0-10"/><use href="#ed0-5"/><use href="#ed0-9"/><use href="#ed0-3"/><use href="#ed0-11"/><use href="#ed0-12"/><use href="#ed0-7"/><use href="#ed0-17"/><use href="#ed13-18"/></g>
<g id="d1" class="nd gr rd">
<g id="d1-0"><circle cx="86" cy="769"/><text x="86" y="769">0</text></g>
<g id="d1-1"><circle cx="20.7" cy="754.7"/><text x="20.7" y="754.7">1</text></g>
<g id="d1-2"><circle cx="58.3" cy="739"/><text x="58.3" y="739">2</text></g>
<g id="d1-3"><circle cx="150.3" cy="784"/><text x="150.3" y="784">3</text></g>
<g id="d1-4"><circle cx="61.7" cy="718.7"/><text x="61.7" y="718.7">4</text></g>
<g id="d1-5"><circle cx="153" cy="760.3"/><text x="153" y="760.3">5</text></g>
<g id="d1-6"><circle cx="92.3" cy="715"/><text x="92.3" y="715">6</text></g>
<g id="d1-7"><circle cx="113.7" cy="815.7"/><text x="113.7" y="815.7">7</text></g>
<g id="d1-8"><circle cx="59.3" cy="818.7"/><text x="59.3" y="818.7">8</text></g>
<g id="d1-9"><circle cx="128.3" cy="780"/><text x="128.3" y="780">9</text></g>
<g id="d1-10"><circle cx="16.7" cy="776.3"/><text x="16.7" y="776.3">10</text></g>
<g id="d1-11"><circle cx="31.3" cy="801.3"/><text x="31.3" y="801.3">11</text></g>
<g id="d1-12"><circle cx="89" cy="822"/><text x="89" y="822">12</text></g>
<g id="d1-13"><circle cx="45.7" cy="784.7"/><text x="45.7" y="784.7">13</text></g>
<g id="d1-14"><circle cx="33" cy="735.3"/><text x="33" y="735.3">14</text></g>
<g id="d1-15"><circle cx="103.7" cy="736"/><text x="103.7" y="736">15</text></g>
<g id="d1-16"><circle cx="124.3" cy="725.3"/><text x="124.3" y="725.3">16</text></g>
<g id="d1-17"><circle cx="135.7" cy="805.3"/><text x="135.7" y="805.3">17</text></g>
<g id="d1-18"><circle cx="63.7" cy="798.7"/><text x="63.7" y="798.7">18</text></g>
<g id="d1-19"><circle cx="142.7" cy="742"/><text x="142.7" y="742">19</text></g>
</g>
<g id="d2" class="nd yl rd" transform="translate(156.3,1.3)">
<g id="d2-0"><circle cx="86" cy="769"/><text x="86" y="769">0</text></g>
<g id="d2-1"><circle cx="20.7" cy="754.7"/><text x="20.7" y="754.7">1</text></g>
<g id="d2-2"><circle cx="58.3" cy="739"/><text x="58.3" y="739">2</text></g>
<g id="d2-3"><circle cx="150.3" cy="784"/><text x="150.3" y="784">3</text></g>
<g id="d2-4"><circle cx="61.7" cy="718.7"/><text x="61.7" y="718.7">4</text></g>
<g id="d2-5"><circle cx="153" cy="760.3"/><text x="153" y="760.3">5</text></g>
<g id="d2-6"><circle cx="92.3" cy="715"/><text x="92.3" y="715">6</text></g>
<g id="d2-7"><circle cx="113.7" cy="815.7"/><text x="113.7" y="815.7">7</text></g>
<g id="d2-8"><circle cx="59.3" cy="818.7"/><text x="59.3" y="818.7">8</text></g>
<g id="d2-9"><circle cx="128.3" cy="780"/><text x="128.3" y="780">9</text></g>
<g id="d2-10"><circle cx="16.7" cy="776.3"/><text x="16.7" y="776.3">10</text></g>
<g id="d2-11"><circle cx="31.3" cy="801.3"/><text x="31.3" y="801.3">11</text></g>
<g id="d2-12"><circle cx="89" cy="822"/><text x="89" y="822">12</text></g>
<g id="d2-13"><circle cx="45.7" cy="784.7"/><text x="45.7" y="784.7">13</text></g>
<g id="d2-14"><circle cx="33" cy="735.3"/><text x="33" y="735.3">14</text></g>
<g id="d2-15"><circle cx="103.7" cy="736"/><text x="103.7" y="736">15</text></g>
<g id="d2-16"><circle cx="124.3" cy="725.3"/><text x="124.3" y="725.3">16</text></g>
<g id="d2-17"><circle cx="135.7" cy="805.3"/><text x="135.7" y="805.3">17</text></g>
<g id="d2-18"><circle cx="63.7" cy="798.7"/><text x="63.7" y="798.7">18</text></g>
<g id="d2-19"><circle cx="142.7" cy="742"/><text x="142.7" y="742">19</text></g>
</g>
<g id="d3" class="nd yl rd" transform="translate(312,1)">
<g id="d3-0"><circle cx="86" cy="769"/><text x="86" y="769">0</text></g>
<g id="d3-1"><circle cx="20.7" cy="754.7"/><text x="20.7" y="754.7">1</text></g>
<g id="d3-2"><circle cx="58.3" cy="739"/><text x="58.3" y="739">2</text></g>
<g id="d3-3"><circle cx="150.3" cy="784"/><text x="150.3" y="784">3</text></g>
<g id="d3-4"><circle cx="61.7" cy="718.7"/><text x="61.7" y="718.7">4</text></g>
<g id="d3-5"><circle cx="153" cy="760.3"/><text x="153" y="760.3">5</text></g>
<g id="d3-6"><circle cx="92.3" cy="715"/><text x="92.3" y="715">6</text></g>
<g id="d3-7"><circle cx="113.7" cy="815.7"/><text x="113.7" y="815.7">7</text></g>
<g id="d3-8"><circle cx="59.3" cy="818.7"/><text x="59.3" y="818.7">8</text></g>
<g id="d3-9"><circle cx="128.3" cy="780"/><text x="128.3" y="780">9</text></g>
<g id="d3-10"><circle cx="16.7" cy="776.3"/><text x="16.7" y="776.3">10</text></g>
<g id="d3-11"><circle cx="31.3" cy="801.3"/><text x="31.3" y="801.3">11</text></g>
<g id="d3-12"><circle cx="89" cy="822"/><text x="89" y="822">12</text></g>
<g id="d3-13"><circle cx="45.7" cy="784.7"/><text x="45.7" y="784.7">13</text></g>
<g id="d3-14"><circle cx="33" cy="735.3"/><text x="33" y="735.3">14</text></g>
<g id="d3-15"><circle cx="103.7" cy="736"/><text x="103.7" y="736">15</text></g>
<g id="d3-16"><circle cx="124.3" cy="725.3"/><text x="124.3" y="725.3">16</text></g>
<g id="d3-17"><circle cx="135.7" cy="805.3"/><text x="135.7" y="805.3">17</text></g>
<g id="d3-18"><circle cx="63.7" cy="798.7"/><text x="63.7" y="798.7">18</text></g>
<g id="d3-19"><circle cx="142.7" cy="742"/><text x="142.7" y="742">19</text></g>
</g>
<g id="d4" class="nd yl rd" transform="translate(468.3,1)">
<g id="d4-0"><circle cx="86" cy="769"/><text x="86" y="769">0</text></g>
<g id="d4-1"><circle cx="20.7" cy="754.7"/><text x="20.7" y="754.7">1</text></g>
<g id="d4-2"><circle cx="58.3" cy="739"/><text x="58.3" y="739">2</text></g>
<g id="d4-3"><circle cx="150.3" cy="784"/><text x="150.3" y="784">3</text></g>
<g id="d4-4"><circle cx="61.7" cy="718.7"/><text x="61.7" y="718.7">4</text></g>
<g id="d4-5"><circle cx="153" cy="760.3"/><text x="153" y="760.3">5</text></g>
<g id="d4-6"><circle cx="92.3" cy="715"/><text x="92.3" y="715">6</text></g>
<g id="d4-7"><circle cx="113.7" cy="815.7"/><text x="113.7" y="815.7">7</text></g>
<g id="d4-8"><circle cx="59.3" cy="818.7"/><text x="59.3" y="818.7">8</text></g>
<g id="d4-9"><circle cx="128.3" cy="780"/><text x="128.3" y="780">9</text></g>
<g id="d4-10"><circle cx="16.7" cy="776.3"/><text x="16.7" y="776.3">10</text></g>
<g id="d4-11"><circle cx="31.3" cy="801.3"/><text x="31.3" y="801.3">11</text></g>
<g id="d4-12"><circle cx="89" cy="822"/><text x="89" y="822">12</text></g>
<g id="d4-13"><circle cx="45.7" cy="784.7"/><text x="45.7" y="784.7">13</text></g>
<g id="d4-14"><circle cx="33" cy="735.3"/><text x="33" y="735.3">14</text></g>
<g id="d4-15"><circle cx="103.7" cy="736"/><text x="103.7" y="736">15</text></g>
<g id="d4-16"><circle cx="124.3" cy="725.3"/><text x="124.3" y="725.3">16</text></g>
<g id="d4-17"><circle cx="135.7" cy="805.3"/><text x="135.7" y="805.3">17</text></g>
<g id="d4-18"><circle cx="63.7" cy="798.7"/><text x="63.7" y="798.7">18</text></g>
<g id="d4-19"><circle cx="142.7" cy="742"/><text x="142.7" y="742">19</text></g>
</g>
</g>
</svg>
